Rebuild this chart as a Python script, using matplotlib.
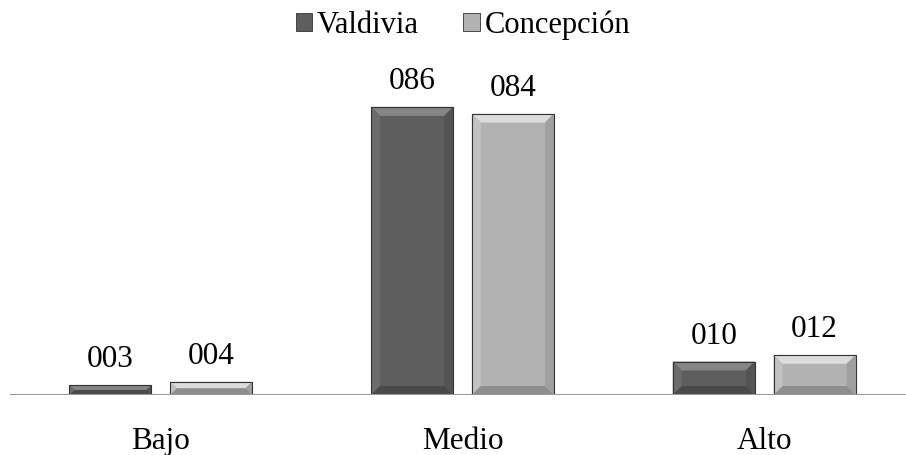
import matplotlib.pyplot as plt
from matplotlib.patches import Polygon, Rectangle
import numpy as np

categories = ["Bajo", "Medio", "Alto"]
series_names = ["Valdivia", "Concepción"]
valdivia = [3, 86, 10]
concepcion = [4, 84, 12]

face_colors = ["#5e5e5e", "#b2b2b2"]
top_colors = ["#858585", "#dcdcdc"]
left_colors = ["#6c6c6c", "#c2c2c2"]
right_colors = ["#545454", "#a0a0a0"]
bottom_colors = ["#4a4a4a", "#8e8e8e"]

plt.rcParams["font.family"] = ["Liberation Serif", "DejaVu Serif"]

fig = plt.figure(figsize=(9.06, 4.55), dpi=100)
ax = fig.add_axes([10 / 906, 60 / 455, 905 / 906, 335 / 455])

x = np.arange(len(categories))
width = 0.272
offsets = [-0.167, 0.167]
ax.set_xlim(-0.5, 2.5)
ax.set_ylim(0, 100)

PX_X = 3.0 / 905
PX_Y = 100 / 335


def bevel(ax, rect, i):
    # chamfered edges on each bar, sized in pixels
    x0, y0 = rect.get_x(), rect.get_y()
    w, h = rect.get_width(), rect.get_height()
    depth = min(9, h / PX_Y / 2)
    dx = depth * PX_X
    dy = depth * PX_Y
    x1, y1 = x0 + w, y0 + h
    ix0, ix1 = x0 + dx, x1 - dx
    iy0, iy1 = y0 + dy, y1 - dy
    faces = [
        ([(x0, y1), (x1, y1), (ix1, iy1), (ix0, iy1)], top_colors[i]),
        ([(x0, y0), (x0, y1), (ix0, iy1), (ix0, iy0)], left_colors[i]),
        ([(x1, y0), (x1, y1), (ix1, iy1), (ix1, iy0)], right_colors[i]),
        ([(x0, y0), (x1, y0), (ix1, iy0), (ix0, iy0)], bottom_colors[i]),
    ]
    for pts, col in faces:
        ax.add_patch(Polygon(pts, closed=True, facecolor=col, edgecolor="none", zorder=3))
    ax.add_patch(Rectangle((x0, y0), w, h, facecolor="none", edgecolor="#333333",
                           linewidth=0.8, zorder=4))


for i, values in enumerate([valdivia, concepcion]):
    bars = ax.bar(x + offsets[i], values, width, color=face_colors[i], zorder=2,
                  label=series_names[i])
    for rect, v in zip(bars, values):
        bevel(ax, rect, i)
        ax.text(rect.get_x() + rect.get_width() / 2, v + 18 * PX_Y, f"{v:03d}",
                ha="center", va="baseline", fontsize=22.5)

for spine in ax.spines.values():
    spine.set_visible(False)
ax.axhline(0, color="#9a9a9a", linewidth=1.5, zorder=5)
ax.set_yticks([])
ax.set_xticks(x)
ax.set_xticklabels(categories, fontsize=22.5)
ax.tick_params(axis="x", length=0, pad=23)

handles = [Rectangle((0, 0), 1, 1, facecolor=face_colors[i], edgecolor="#333333",
                     linewidth=0.6) for i in range(2)]
fig.legend(handles, series_names, loc="center", bbox_to_anchor=(463 / 906, 1 - 25 / 455),
           ncol=2, frameon=False, fontsize=22, handlelength=0.55, handleheight=0.55,
           handletextpad=0.15, columnspacing=1.45)

fig.savefig("out.png", dpi=100)
